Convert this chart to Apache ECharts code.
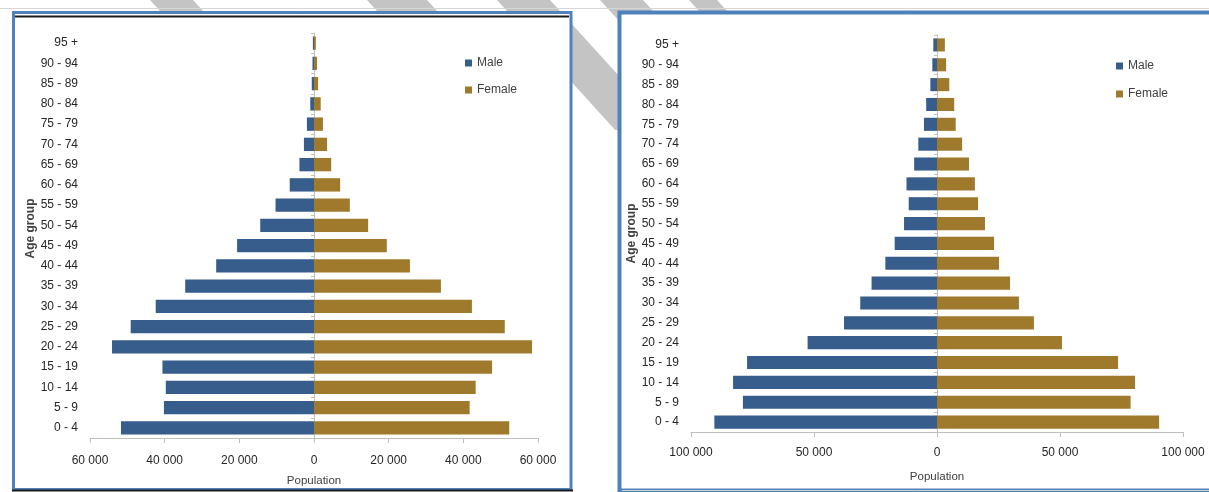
<!DOCTYPE html>
<html>
<head>
<meta charset="utf-8">
<script src="https://cdn.jsdelivr.net/npm/echarts@6/dist/echarts.min.js"></script>
<style>
  html, body { margin: 0; padding: 0; background: #fff; }
  #chart { width: 1209px; height: 492px; }
</style>
</head>
<body>
<div id="chart"></div>
<script>
// age groups, bottom to top
const ageGroups = ['0 - 4', '5 - 9', '10 - 14', '15 - 19', '20 - 24', '25 - 29', '30 - 34', '35 - 39',
  '40 - 44', '45 - 49', '50 - 54', '55 - 59', '60 - 64', '65 - 69', '70 - 74', '75 - 79',
  '80 - 84', '85 - 89', '90 - 94', '95 +'];

// left pyramid
const leftMale = [51700, 40200, 39700, 40600, 54100, 49100, 42400, 34500, 26200, 20600,
  14400, 10300, 6500, 3900, 2700, 1900, 1000, 600, 400, 300];
const leftFemale = [52300, 41700, 43300, 47700, 58400, 51100, 42300, 34000, 25700, 19500,
  14500, 9600, 7000, 4600, 3500, 2400, 1800, 1100, 800, 500];
const leftTicks = [-60000, -40000, -20000, 0, 20000, 40000, 60000];

// right pyramid
const rightMale = [90500, 78900, 82900, 77200, 52600, 37800, 31200, 26600, 21000, 17200,
  13400, 11500, 12400, 9300, 7600, 5300, 4400, 2700, 1900, 1500];
const rightFemale = [90300, 78700, 80500, 73600, 50800, 39400, 33300, 29700, 25200, 23200,
  19500, 16700, 15400, 13000, 10200, 7600, 7000, 5000, 3700, 3200];
const rightTicks = [-100000, -50000, 0, 50000, 100000];

const MALE = '#375d8c';
const FEMALE = '#a07a2c';
const TEXT = '#262626';
const AXIS = '#bfbfbf';
const FONT = '"Liberation Sans", Arial, sans-serif';

function fmt(v) {
  return String(Math.abs(v)).replace(/\B(?=(\d{3})+(?!\d))/g, ' ');
}

const chart = echarts.init(document.getElementById('chart'), null, { renderer: 'canvas' });

function valueAxis(grid, ticks, labelMargin, nameGap) {
  return {
    type: 'value',
    gridIndex: grid,
    z: 10,
    min: ticks[0],
    max: ticks[ticks.length - 1],
    interval: ticks[1] - ticks[0],
    name: 'Population',
    nameLocation: 'middle',
    nameGap: nameGap,
    nameTextStyle: { color: '#404040', fontSize: 11.5, fontFamily: FONT },
    axisLine: { show: true, lineStyle: { color: AXIS, width: 1 } },
    axisTick: { show: true, length: 5, lineStyle: { color: AXIS } },
    axisLabel: { color: TEXT, fontSize: 12, fontFamily: FONT, margin: labelMargin, formatter: fmt },
    splitLine: { show: false }
  };
}

function labelAxis(grid, nameGap, namePad) {
  return {
    type: 'category',
    gridIndex: grid,
    z: 10,
    data: ageGroups,
    name: 'Age group',
    nameLocation: 'middle',
    nameRotate: 90,
    nameGap: nameGap,
    nameTextStyle: { color: '#404040', fontSize: 12, fontWeight: 'bold', fontFamily: FONT, padding: namePad },
    axisLine: { show: false, onZero: false },
    axisTick: { show: false },
    axisLabel: { color: TEXT, fontSize: 12, fontFamily: FONT, margin: 12 },
    splitLine: { show: false }
  };
}

function zeroAxis(grid) {
  return {
    type: 'category',
    gridIndex: grid,
    z: 10,
    position: 'left',
    data: ageGroups,
    axisLine: { show: true, onZero: true, lineStyle: { color: AXIS } },
    axisTick: { show: true, length: 3, lineStyle: { color: AXIS } },
    axisLabel: { show: false },
    splitLine: { show: false }
  };
}

function bars(name, color, values, sign, xi, yi, stack) {
  return {
    name: name,
    type: 'bar',
    z: 10,
    xAxisIndex: xi,
    yAxisIndex: yi,
    stack: stack,
    barWidth: '66%',
    itemStyle: { color: color },
    emphasis: { disabled: true },
    data: values.map((v) => sign * v)
  };
}

function legend(left, top, gap) {
  return {
    z: 10,
    left: left,
    top: top,
    orient: 'vertical',
    icon: 'rect',
    itemWidth: 7,
    itemHeight: 7,
    itemGap: gap,
    textStyle: { color: '#404040', fontSize: 12, fontFamily: FONT, lineHeight: 14 },
    data: ['Male', 'Female']
  };
}

// background: watermark strokes and the two chart frames
const STRIPE = '#c4c4c4';
function stripe(x0, x1) {
  const dx = 130 / 1.1;
  return {
    type: 'polygon', z: 0, silent: true,
    shape: { points: [[x0, 0], [x1, 0], [x1 + dx, 130], [x0 + dx, 130]] },
    style: { fill: STRIPE }
  };
}

const graphic = [
  stripe(150, 193),
  stripe(367, 427),
  stripe(497, 550),
  stripe(600, 643),
  stripe(689, 717),
  { type: 'line', z: 0, silent: true, shape: { x1: 0, y1: 8.5, x2: 1209, y2: 8.5 }, style: { stroke: '#d6d6d6', lineWidth: 1 } },
  { type: 'rect', z: 1, silent: true, shape: { x: 13.5, y: 12.5, width: 557.5, height: 477 },
    style: { fill: '#fff', stroke: '#4f81bd', lineWidth: 3 } },
  { type: 'line', z: 1, silent: true, shape: { x1: 15, y1: 16.5, x2: 569, y2: 16.5 }, style: { stroke: '#1a1a1a', lineWidth: 2 } },
  { type: 'line', z: 1, silent: true, shape: { x1: 12, y1: 490.5, x2: 573, y2: 490.5 }, style: { stroke: '#1a1a1a', lineWidth: 2 } },
  { type: 'rect', z: 1, silent: true, shape: { x: 619.5, y: 12.5, width: 600, height: 478 },
    style: { fill: '#fff', stroke: '#4f81bd', lineWidth: 4 } },
  { type: 'line', z: 1, silent: true, shape: { x1: 622, y1: 490.5, x2: 1209, y2: 490.5 }, style: { stroke: '#d0d0d0', lineWidth: 1 } }
];

const option = {
  animation: false,
  backgroundColor: '#fff',
  graphic: { elements: graphic },
  grid: [
    { left: 90, width: 448, top: 33, height: 405 },
    { left: 691, width: 492, top: 35, height: 397 }
  ],
  xAxis: [
    valueAxis(0, leftTicks, 17, 37),
    valueAxis(1, rightTicks, 15, 39)
  ],
  yAxis: [
    labelAxis(0, 53, [0, 0, 0, 14]),
    zeroAxis(0),
    labelAxis(1, 52, 0),
    zeroAxis(1)
  ],
  legend: [
    legend(460, 51, 13),
    legend(1111, 54, 14)
  ],
  series: [
    bars('Male', MALE, leftMale, -1, 0, 0, 'left'),
    bars('Female', FEMALE, leftFemale, 1, 0, 0, 'left'),
    bars('Male', MALE, rightMale, -1, 1, 2, 'right'),
    bars('Female', FEMALE, rightFemale, 1, 1, 2, 'right')
  ]
};

chart.setOption(option);
</script>
</body>
</html>
